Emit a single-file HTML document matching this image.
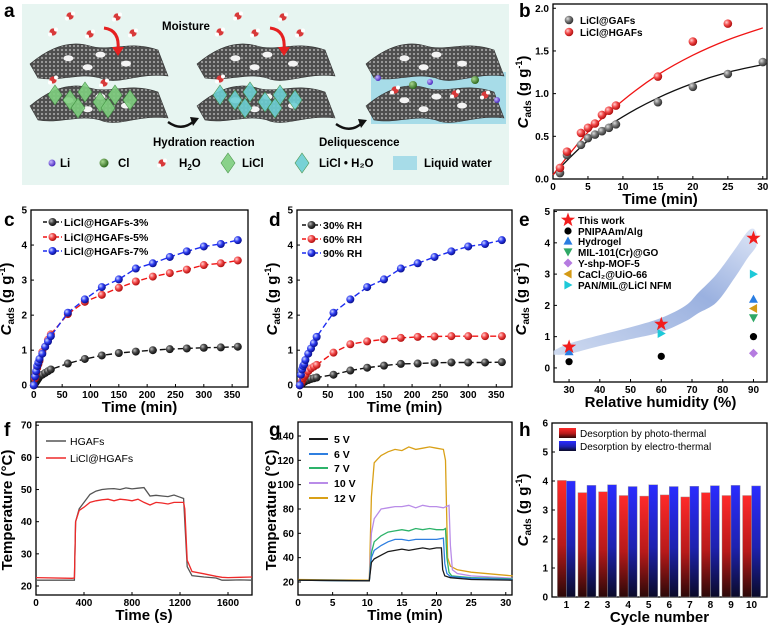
<!DOCTYPE html>
<html><head><meta charset="utf-8"><title>LiCl@HGAFs sorption figure</title>
<style>
html,body{margin:0;padding:0;background:#fff;}
svg{display:block;font-family:"Liberation Sans",Arial,sans-serif;}
</style></head>
<body>
<svg id="fig" width="770" height="628" viewBox="0 0 770 628" xmlns="http://www.w3.org/2000/svg">
<defs>
<radialGradient id="gBlack" cx="35%" cy="35%" r="65%"><stop offset="0" stop-color="#bbb"/><stop offset="0.5" stop-color="#444"/><stop offset="1" stop-color="#111"/></radialGradient>
<radialGradient id="gGray" cx="35%" cy="35%" r="65%"><stop offset="0" stop-color="#ddd"/><stop offset="0.5" stop-color="#777"/><stop offset="1" stop-color="#333"/></radialGradient>
<radialGradient id="gRed" cx="35%" cy="35%" r="65%"><stop offset="0" stop-color="#ffd0d0"/><stop offset="0.5" stop-color="#f24848"/><stop offset="1" stop-color="#b01010"/></radialGradient>
<radialGradient id="gBlue" cx="35%" cy="35%" r="65%"><stop offset="0" stop-color="#d0d8ff"/><stop offset="0.5" stop-color="#2d3cf0"/><stop offset="1" stop-color="#0a1090"/></radialGradient>
<radialGradient id="gLi" cx="35%" cy="35%" r="65%"><stop offset="0" stop-color="#c8b8ff"/><stop offset="1" stop-color="#4a2ac0"/></radialGradient>
<radialGradient id="gCl" cx="35%" cy="35%" r="65%"><stop offset="0" stop-color="#a8d890"/><stop offset="1" stop-color="#2f6a1e"/></radialGradient>
<linearGradient id="barRed" x1="0" y1="0" x2="0" y2="1"><stop offset="0" stop-color="#ff2a2a"/><stop offset="0.55" stop-color="#b81a1a"/><stop offset="1" stop-color="#2a0808"/></linearGradient>
<linearGradient id="barBlue" x1="0" y1="0" x2="0" y2="1"><stop offset="0" stop-color="#2a2cff"/><stop offset="0.55" stop-color="#1e22b0"/><stop offset="1" stop-color="#0a0a28"/></linearGradient>
<linearGradient id="band" x1="0" y1="1" x2="1" y2="0"><stop offset="0" stop-color="#c9d6ee"/><stop offset="0.6" stop-color="#8fa8dc"/><stop offset="1" stop-color="#d9e2f5"/></linearGradient>
<pattern id="mesh" width="4" height="4" patternUnits="userSpaceOnUse"><rect width="4" height="4" fill="#4e4e4e"/><circle cx="2" cy="2" r="1.1" fill="#a0a0a0"/></pattern>
</defs>
<g id="panelA">
  <rect x="22" y="4" width="487" height="181" fill="#e7f5f1"/>
</g>
<g id="charts"></g>
</svg>
<script>
// ---------------- data ----------------
const bTimeGAF=[1,2,4,5,6,7,8,9,15,20,25,30];
const bValGAF=[0.07,0.28,0.40,0.48,0.52,0.56,0.60,0.64,0.90,1.08,1.23,1.37];
const bTimeHGAF=[1,2,4,5,6,7,8,9,15,20,25];
const bValHGAF=[0.13,0.32,0.54,0.60,0.65,0.75,0.80,0.86,1.20,1.61,1.82];
const bFitTime=[0,5,10,15,20,25,30];
const bFitGAF=[0.05,0.45,0.73,0.95,1.12,1.25,1.34];
const bFitHGAF=[0.05,0.55,0.92,1.22,1.45,1.63,1.77];
const cdTime=[0,2,4,6,8,10,15,20,25,30,60,90,120,150,180,210,240,270,300,330,360];
const c3=[0,0.05,0.10,0.15,0.20,0.25,0.30,0.35,0.40,0.45,0.62,0.75,0.85,0.92,0.96,1.00,1.03,1.05,1.07,1.08,1.10];
const c5=[0,0.20,0.35,0.50,0.60,0.70,0.95,1.10,1.30,1.45,2.03,2.38,2.58,2.78,2.96,3.10,3.20,3.30,3.43,3.48,3.56];
const c7=[0,0.25,0.40,0.55,0.65,0.75,0.90,1.10,1.25,1.40,2.07,2.45,2.80,3.02,3.33,3.48,3.66,3.82,3.96,4.03,4.14];
const d30=[0,0.02,0.05,0.08,0.10,0.12,0.15,0.18,0.20,0.22,0.30,0.42,0.50,0.56,0.61,0.62,0.64,0.65,0.65,0.65,0.66];
const d60=[0,0.05,0.12,0.20,0.25,0.30,0.40,0.48,0.53,0.58,0.93,1.17,1.25,1.31,1.35,1.38,1.39,1.40,1.40,1.40,1.40];
const d90=[0,0.30,0.45,0.55,0.60,0.72,0.90,1.05,1.20,1.38,2.07,2.45,2.80,3.02,3.33,3.48,3.66,3.82,3.96,4.03,4.14];
const eBandX=[25,30,40,50,60,68,72,78,84,88,90,91];
const eBandTop=[0.55,0.78,1.05,1.30,1.60,2.00,2.40,3.00,3.80,4.35,4.45,4.3];
const eBandBot=[0.42,0.45,0.70,0.92,1.15,1.50,1.75,2.10,2.90,3.50,3.75,3.9];
const eStarX=[30,60,90], eStarY=[0.67,1.40,4.15];
const ePnipX=[30,60,90], ePnipY=[0.20,0.37,1.00];
const eHydX=[30,90], eHydY=[0.52,2.20];
const eMilX=[90], eMilY=[1.60];
const eYshpX=[90], eYshpY=[0.47];
const eCacX=[90], eCacY=[1.90];
const ePanX=[60,90], ePanY=[1.10,3.00];
const fTime=[0,300,320,330,360,400,450,500,550,600,650,700,750,800,850,900,950,1000,1050,1100,1150,1200,1230,1240,1260,1300,1400,1500,1550,1600,1700,1800];
const fHGAF=[21.8,21.8,21.8,40,44,46,48.5,49.5,50,50.2,50.3,50,50.5,50.2,50.4,50.6,48,48.2,48,47.8,48.3,47.6,47.2,40,26,23.2,22.8,22.5,21.8,21.8,21.9,21.8];
const fLiCl=[22.6,22.4,22.5,40,43.5,44.5,46,46.5,46.8,47,46.5,47,46.8,46.5,47,46,45.2,46,45.8,45.5,46,46,46,44,28,24.5,23.8,23,22.7,22.6,22.7,22.8];
const g5t=[0,10,10.3,10.6,11,12,13,14,15,16,17,18,19,20,20.7,20.9,21.2,22,25,31];
const g5v=[21.5,21,21,36,39,42,45,46,47,46,47,48,47,48,48,30,25,23.5,22,21.5];
const g6t=[0,10,10.3,10.6,11,12,13,14,15,16,17,18,19,20,21,21.2,21.5,22,25,31];
const g6v=[21.5,21,21,40,46,50,53,55,55,54,55,55,55,55,56,35,27,24.5,23,22];
const g7t=[0,10,10.3,10.6,11,12,13,14,15,16,17,18,19,20,21,21.3,21.5,21.8,22.2,25,31];
const g7v=[21.5,21,21,44,53,58,61,62,63,62,64,63,64,63,63,64,40,28,25,23.5,22.5];
const g10t=[0,10,10.3,10.6,11,12,13,14,15,16,17,18,19,20,21,21.8,22,22.3,23,25,31];
const g10v=[21.5,21,21,60,72,80,81,82,82,83,81,83,82,82,81,83,50,30,27,25,23];
const g12t=[0,10,10.3,10.6,11,11.5,12,13,14,15,16,17,18,19,20,21,21.3,21.6,22,23,25,31];
const g12v=[22,21.5,21.5,90,118,121,124,127,129,128,131,129,130,131,130,129,120,40,33,30,28,25];
const hCycles=[1,2,3,4,5,6,7,8,9,10];
const hPhoto=[4.02,3.60,3.63,3.50,3.48,3.52,3.45,3.60,3.50,3.50];
const hElectro=[4.00,3.85,3.87,3.81,3.87,3.81,3.82,3.84,3.85,3.83];

// ---------------- helpers ----------------
const NS='http://www.w3.org/2000/svg';
const root=document.getElementById('charts');
const panelA=document.getElementById('panelA');
function mk(tag,attrs,name,parent){
  const el=document.createElementNS(NS,tag);
  for(const k in attrs) el.setAttribute(k,attrs[k]);
  
  
  (parent||root).appendChild(el);
  return el;
}
function txt(x,y,s,attrs,name,parent){
  const a=Object.assign({x:x,y:y,'font-size':11,'font-weight':'bold',fill:'#000'},attrs||{});
  const el=mk('text',a,name,parent); el.textContent=s; return el;
}
function axes(o){
  const sx=v=>o.L+(v-o.xmin)/(o.xmax-o.xmin)*(o.R-o.L);
  const sy=v=>o.B-(v-o.ymin)/(o.ymax-o.ymin)*(o.B-o.T);
  const g=mk('g',{},o.id+'-axes');
  o.xt.forEach((v,i)=>{
    mk('line',{x1:sx(v),x2:sx(v),y1:o.B,y2:o.B-3,stroke:'#000','stroke-width':1},o.id+'-x-tick',g);
    txt(sx(v),o.B+11,o.xl?o.xl[i]:String(v),{'text-anchor':'middle','font-size':10},o.id+'-x-tick-label',g);
  });
  o.yt.forEach((v,i)=>{
    mk('line',{x1:o.L,x2:o.L+3,y1:sy(v),y2:sy(v),stroke:'#000','stroke-width':1},o.id+'-y-tick',g);
    txt(o.L-4,sy(v)+3.5,o.yl?o.yl[i]:String(v),{'text-anchor':'end','font-size':10},o.id+'-y-tick-label',g);
  });
  mk('rect',{x:o.L,y:o.T,width:o.R-o.L,height:o.B-o.T,fill:'none',stroke:'#000','stroke-width':1.3},o.id+'-plot-frame',g);
  txt((o.L+o.R)/2,o.B+25,o.xtitle,{'text-anchor':'middle','font-size':15},o.id+'-x-axis-title',g);
  return {sx,sy,g};
}
function cadsTitle(x,cy,id){
  const t=mk('text',{x:0,y:0,'font-size':15,'font-weight':'bold','text-anchor':'middle',transform:`translate(${x},${cy}) rotate(-90)`},id+'-y-axis-title');
  const a=document.createElementNS(NS,'tspan'); a.setAttribute('font-style','italic'); a.textContent='C'; t.appendChild(a);
  const b=document.createElementNS(NS,'tspan'); b.setAttribute('font-size','10'); b.setAttribute('dy','3'); b.textContent='ads'; t.appendChild(b);
  const c=document.createElementNS(NS,'tspan'); c.setAttribute('dy','-3'); c.textContent=' (g g'; t.appendChild(c);
  const d=document.createElementNS(NS,'tspan'); d.setAttribute('font-size','9'); d.setAttribute('dy','-6'); d.textContent='-1'; t.appendChild(d);
  const e=document.createElementNS(NS,'tspan'); e.setAttribute('dy','6'); e.textContent=')'; t.appendChild(e);
}
function plainTitle(x,cy,s,id){
  mk('text',{x:0,y:0,'font-size':15,'font-weight':'bold','text-anchor':'middle',transform:`translate(${x},${cy}) rotate(-90)`},id+'-y-axis-title').textContent=s;
}
function panelLabel(x,y,s){ txt(x,y,s,{'font-size':19},'panel-label-'+s); }
function smooth(pts){
  let d='M'+pts[0][0]+','+pts[0][1];
  for(let i=0;i<pts.length-1;i++){
    const p0=pts[Math.max(i-1,0)],p1=pts[i],p2=pts[i+1],p3=pts[Math.min(i+2,pts.length-1)];
    d+=` C${p1[0]+(p2[0]-p0[0])/6},${p1[1]+(p2[1]-p0[1])/6} ${p2[0]-(p3[0]-p1[0])/6},${p2[1]-(p3[1]-p1[1])/6} ${p2[0]},${p2[1]}`;
  }
  return d;
}
function poly(xs,ys,A,attrs,name){
  const pts=xs.map((x,i)=>A.sx(x).toFixed(1)+','+A.sy(ys[i]).toFixed(1)).join(' ');
  return mk('polyline',Object.assign({points:pts,fill:'none'},attrs),name);
}
function marker(type,x,y,color,name){
  const s=4.5;
  if(type==='circle') return mk('circle',{cx:x,cy:y,r:3.6,fill:color},name);
  if(type==='star'){
    let p=[];for(let i=0;i<10;i++){const r=i%2?3:7.5,a=-Math.PI/2+i*Math.PI/5;p.push((x+r*Math.cos(a)).toFixed(1)+','+(y+r*Math.sin(a)).toFixed(1));}
    return mk('polygon',{points:p.join(' '),fill:'#f21d1d'},name);
  }
  const shapes={up:[[0,-s],[s,s*0.8],[-s,s*0.8]],down:[[0,s],[s,-s*0.8],[-s,-s*0.8]],left:[[-s,0],[s*0.8,-s],[s*0.8,s]],right:[[s,0],[-s*0.8,-s],[-s*0.8,s]],diamond:[[0,-s],[s,0],[0,s],[-s,0]]};
  return mk('polygon',{points:shapes[type].map(p=>(x+p[0])+','+(y+p[1])).join(' '),fill:color},name);
}

// ---------------- panel a ----------------
function sheet(ox,oy,w,name){
  const d=`M${ox},${oy+22} C${ox+20},${oy+5} ${ox+40},${oy-2} ${ox+60},${oy+4} C${ox+80},${oy+10} ${ox+100},${oy-2} ${ox+w},${oy+8}
  L${ox+w+10},${oy+34} C${ox+w-20},${oy+30} ${ox+w-40},${oy+44} ${ox+70},${oy+36} C${ox+50},${oy+30} ${ox+30},${oy+40} ${ox+8},${oy+36} Z`;
  mk('path',{d:d,fill:'url(#mesh)',stroke:'#333','stroke-width':0.6},name,panelA);
  [[0.3,0.45],[0.55,0.35],[0.75,0.6],[0.45,0.7]].forEach(h=>mk('ellipse',{cx:ox+w*h[0],cy:oy+36*h[1],rx:5,ry:3,fill:'#f4f4f4'},'graphene-hole',panelA));
}
const cols=[30,197,366];
cols.forEach((ox,i)=>{
  if(i===2) mk('rect',{x:371,y:72,width:135,height:52,fill:'#a7dce8'},'liquid-water-layer',panelA);
  sheet(ox,42,128,'graphene-sheet-top');
  sheet(ox,84,128,'graphene-sheet-bottom');
});
function octa(cx,cy,fill,name){mk('polygon',{points:`${cx},${cy-10} ${cx+7},${cy} ${cx},${cy+10} ${cx-7},${cy}`,fill:fill,stroke:'#3a8a3a','stroke-width':0.6,opacity:0.9},name,panelA);}
[[55,95],[70,100],[85,92],[100,102],[115,95],[130,100],[78,108],[108,108]].forEach(p=>octa(p[0],p[1],'#7fcf7f','licl-octahedron'));
[[220,95],[235,100],[250,92],[265,102],[280,95],[295,100],[245,108],[275,108]].forEach(p=>octa(p[0],p[1],'#6ccfd4','licl-hydrate-octahedron'));
function water(cx,cy,name){mk('circle',{cx:cx,cy:cy,r:3.6,fill:'#d83a3a'},name,panelA);mk('circle',{cx:cx-3,cy:cy+2.5,r:2,fill:'#fff'},name+'-h',panelA);mk('circle',{cx:cx+3,cy:cy-2.5,r:2,fill:'#fff'},name+'-h',panelA);}
[[70,16],[117,17],[53,32],[90,34],[133,33],[53,80],[104,83],[238,16],[283,17],[220,32],[255,33],[300,33],[220,79],[395,90],[455,94],[485,95]].forEach(p=>water(p[0],p[1],'water-molecule'));
[[378,78],[430,82],[497,100]].forEach(p=>mk('circle',{cx:p[0],cy:p[1],r:3,fill:'url(#gLi)'},'li-ion',panelA));
[[413,85],[475,80]].forEach(p=>mk('circle',{cx:p[0],cy:p[1],r:4,fill:'url(#gCl)'},'cl-ion',panelA));
mk('path',{d:'M104,28 Q120,30 118,50',fill:'none',stroke:'#e52020','stroke-width':3},'moisture-arrow',panelA);
mk('polygon',{points:'112,47 124,47 118,56',fill:'#e52020'},'moisture-arrowhead',panelA);
mk('path',{d:'M270,28 Q286,30 284,50',fill:'none',stroke:'#e52020','stroke-width':3},'moisture-arrow',panelA);
mk('polygon',{points:'278,47 290,47 284,56',fill:'#e52020'},'moisture-arrowhead',panelA);
mk('path',{d:'M168,122 Q182,132 194,121',fill:'none',stroke:'#111','stroke-width':2.4},'hydration-arrow',panelA);
mk('polygon',{points:'190,117 199,118 193,126',fill:'#111'},'hydration-arrowhead',panelA);
mk('path',{d:'M336,124 Q350,134 362,123',fill:'none',stroke:'#111','stroke-width':2.4},'deliquescence-arrow',panelA);
mk('polygon',{points:'358,119 367,120 361,128',fill:'#111'},'deliquescence-arrowhead',panelA);
txt(162,30,'Moisture',{'font-size':11.5},'moisture-label',panelA);
txt(153,146,'Hydration reaction',{'font-size':11.5},'hydration-reaction-label',panelA);
txt(319,146,'Deliquescence',{'font-size':11.5},'deliquescence-label',panelA);
mk('circle',{cx:52,cy:163,r:3.5,fill:'url(#gLi)'},'legend-li-icon',panelA); txt(60,167,'Li',{'font-size':11.5},'legend-li',panelA);
mk('circle',{cx:104,cy:163,r:4.5,fill:'url(#gCl)'},'legend-cl-icon',panelA); txt(118,167,'Cl',{'font-size':11.5},'legend-cl',panelA);
water(162,163,'legend-h2o-icon');
const h2o=txt(179,167,'H',{'font-size':11.5},'legend-h2o',panelA);
let ts=document.createElementNS(NS,'tspan');ts.setAttribute('font-size','8');ts.setAttribute('dy','3');ts.textContent='2';h2o.appendChild(ts);
ts=document.createElementNS(NS,'tspan');ts.setAttribute('dy','-3');ts.textContent='O';h2o.appendChild(ts);
octa(228,163,'#7fcf7f','legend-licl-icon'); txt(242,167,'LiCl',{'font-size':11.5},'legend-licl',panelA);
octa(302,163,'#6ccfd4','legend-licl-h2o-icon'); txt(319,167,'LiCl • H₂O',{'font-size':11.5},'legend-licl-h2o',panelA);
mk('rect',{x:393,y:156,width:24,height:14,fill:'#a7dce8'},'legend-liquid-water-icon',panelA); txt(424,167,'Liquid water',{'font-size':11.5},'legend-liquid-water',panelA);
panelLabel(4,17,'a');

// ---------------- panel b ----------------
panelLabel(519,17,'b');
const B=axes({id:'b',L:553,R:767,T:4,B:179,xmin:0,xmax:30.6,ymin:0,ymax:2.05,xt:[0,5,10,15,20,25,30],yt:[0,0.5,1,1.5,2],yl:['0.0','0.5','1.0','1.5','2.0'],xtitle:'Time (min)'});
cadsTitle(528,92,'b');
mk('path',{d:smooth(bFitTime.map((t,i)=>[B.sx(t),B.sy(bFitGAF[i])])),fill:'none',stroke:'#111','stroke-width':1.3},'fit-line-licl-gafs');
mk('path',{d:smooth(bFitTime.map((t,i)=>[B.sx(t),B.sy(bFitHGAF[i])])),fill:'none',stroke:'#f01414','stroke-width':1.3},'fit-line-licl-hgafs');
bTimeGAF.forEach((t,i)=>mk('circle',{cx:B.sx(t),cy:B.sy(bValGAF[i]),r:4.3,fill:'url(#gGray)'},'point-licl-gafs'));
bTimeHGAF.forEach((t,i)=>mk('circle',{cx:B.sx(t),cy:B.sy(bValHGAF[i]),r:4.3,fill:'url(#gRed)'},'point-licl-hgafs'));
mk('circle',{cx:569,cy:20,r:4.3,fill:'url(#gGray)'},'legend-marker-licl-gafs'); txt(580,24,'LiCl@GAFs',{'font-size':10},'legend-entry-licl-gafs');
mk('circle',{cx:569,cy:32,r:4.3,fill:'url(#gRed)'},'legend-marker-licl-hgafs'); txt(580,36,'LiCl@HGAFs',{'font-size':10},'legend-entry-licl-hgafs');

// ---------------- panel c & d ----------------
function kinetic(id,L,R,series,labels,grads,colors,legX,legTextX,legY){
  const A=axes({id:id,L:L,R:R,T:210,B:387,xmin:-5,xmax:378,ymin:-0.05,ymax:5,xt:[0,50,100,150,200,250,300,350],yt:[0,1,2,3,4,5],xtitle:'Time (min)'});
  series.forEach((vals,s)=>{
    poly(cdTime,vals,A,{stroke:colors[s],'stroke-width':1.4,'stroke-dasharray':'6,3'},id+'-line-'+labels[s]);
    cdTime.forEach((t,i)=>mk('circle',{cx:A.sx(t),cy:A.sy(vals[i]),r:4,fill:grads[s]},id+'-point-'+labels[s]));
    const y=legY[s];
    mk('line',{x1:legX,x2:legX+19,y1:y,y2:y,stroke:colors[s],'stroke-width':1.4,'stroke-dasharray':'4,2'},id+'-legend-line');
    mk('circle',{cx:legX+9.5,cy:y,r:4,fill:grads[s]},id+'-legend-marker');
    txt(legTextX,y+4,labels[s],{'font-size':10.5},id+'-legend-entry');
  });
  return A;
}
panelLabel(4,226,'c');
kinetic('c',31,248,[c3,c5,c7],['LiCl@HGAFs-3%','LiCl@HGAFs-5%','LiCl@HGAFs-7%'],['url(#gBlack)','url(#gRed)','url(#gBlue)'],['#111','#f01414','#1c2cf0'],43,64,[222,237,251]);
cadsTitle(11,299,'c');
panelLabel(269,226,'d');
kinetic('d',297,512,[d30,d60,d90],['30% RH','60% RH','90% RH'],['url(#gBlack)','url(#gRed)','url(#gBlue)'],['#111','#f01414','#1c2cf0'],302,323,[225,239,253]);
cadsTitle(277,299,'d');

// ---------------- panel e ----------------
panelLabel(519,226,'e');
const E=axes({id:'e',L:554,R:767,T:210,B:382,xmin:25.1,xmax:94.4,ymin:-0.45,ymax:5.05,xt:[30,40,50,60,70,80,90],yt:[0,1,2,3,4,5],xtitle:'Relative humidity (%)'});
cadsTitle(526,299,'e');
const bandPts=eBandX.map((x,i)=>[E.sx(x),E.sy(eBandTop[i])]);
const bandBot=eBandX.map((x,i)=>[E.sx(x),E.sy(eBandBot[i])]).reverse();
const botPath=smooth(bandBot);
mk('path',{d:smooth(bandPts)+' L'+bandBot[0][0]+','+bandBot[0][1]+botPath.slice(botPath.indexOf(' C'))+' Z',fill:'url(#band)',opacity:0.9},'humidity-trend-band');
ePnipX.forEach((x,i)=>marker('circle',E.sx(x),E.sy(ePnipY[i]),'#000','point-pnipaam-alg'));
eHydX.forEach((x,i)=>marker('up',E.sx(x),E.sy(eHydY[i]),'#2a7de1','point-hydrogel'));
eMilX.forEach((x,i)=>marker('down',E.sx(x),E.sy(eMilY[i]),'#2fa866','point-mil-101'));
eYshpX.forEach((x,i)=>marker('diamond',E.sx(x),E.sy(eYshpY[i]),'#b57be0','point-y-shp-mof-5'));
eCacX.forEach((x,i)=>marker('left',E.sx(x),E.sy(eCacY[i]),'#d49a16','point-cacl2-uio-66'));
ePanX.forEach((x,i)=>marker('right',E.sx(x),E.sy(ePanY[i]),'#1ec9d8','point-pan-mil-licl'));
eStarX.forEach((x,i)=>marker('star',E.sx(x),E.sy(eStarY[i]),'#f21d1d','point-this-work'));
const eLeg=[['star','#f21d1d','This work'],['circle','#000','PNIPAAm/Alg'],['up','#2a7de1','Hydrogel'],['down','#2fa866','MIL-101(Cr)@GO'],['diamond','#b57be0','Y-shp-MOF-5'],['left','#d49a16','CaCl₂@UiO-66'],['right','#1ec9d8','PAN/MIL@LiCl NFM']];
const eLegY=[220,231,241,252,263,274,285];
eLeg.forEach((l,i)=>{marker(l[0],568,eLegY[i],l[1],'legend-marker-'+i);txt(578,eLegY[i]+4,l[2],{'font-size':10},'legend-entry-e');});

// ---------------- panel f ----------------
panelLabel(4,436,'f');
const F=axes({id:'f',L:36,R:252,T:422,B:595,xmin:0,xmax:1800,ymin:17.2,ymax:71,xt:[0,400,800,1200,1600],yt:[20,30,40,50,60,70],xtitle:'Time (s)'});
plainTitle(12,510,'Temperature (°C)','f');
poly(fTime,fHGAF,F,{stroke:'#555','stroke-width':1.3},'line-hgafs');
poly(fTime,fLiCl,F,{stroke:'#ee2a2a','stroke-width':1.3},'line-licl-hgafs');
mk('line',{x1:46,x2:66,y1:441,y2:441,stroke:'#555','stroke-width':1.5},'legend-line-hgafs'); txt(70,445,'HGAFs',{'font-size':10.5,'font-weight':'normal'},'legend-entry-hgafs');
mk('line',{x1:46,x2:66,y1:458,y2:458,stroke:'#ee2a2a','stroke-width':1.5},'legend-line-licl-hgafs'); txt(70,462,'LiCl@HGAFs',{'font-size':10.5,'font-weight':'normal'},'legend-entry-licl-hgafs');

// ---------------- panel g ----------------
panelLabel(269,436,'g');
const G=axes({id:'g',L:298,R:512,T:422,B:595,xmin:0,xmax:30.9,ymin:9.3,ymax:151.5,xt:[0,5,10,15,20,25,30],yt:[20,40,60,80,100,120,140],xtitle:'Time (min)'});
plainTitle(276,510,'Temperature (°C)','g');
const gSeries=[[g12t,g12v,'#d9a017','12 V'],[g10t,g10v,'#b98ce8','10 V'],[g7t,g7v,'#2db36a','7 V'],[g6t,g6v,'#2f7fe0','6 V'],[g5t,g5v,'#1a1a1a','5 V']];
gSeries.forEach(s=>poly(s[0],s[1],G,{stroke:s[2],'stroke-width':1.3},'line-'+s[3].replace(' ','').toLowerCase()));
const gLegY=[439,454,468,483,498];
gSeries.slice().reverse().forEach((s,i)=>{mk('line',{x1:309,x2:328,y1:gLegY[i],y2:gLegY[i],stroke:s[2],'stroke-width':2},'legend-line-g');txt(334,gLegY[i]+4,s[3],{'font-size':10.5},'legend-entry-g');});

// ---------------- panel h ----------------
panelLabel(519,436,'h');
const H=axes({id:'h',L:552,R:767,T:423,B:597,xmin:0.3,xmax:10.75,ymin:0,ymax:6,xt:hCycles,yt:[0,1,2,3,4,5,6],xtitle:'Cycle number'});
cadsTitle(528,510,'h');
hCycles.forEach((c,i)=>{
  mk('rect',{x:H.sx(c)-9,y:H.sy(hPhoto[i]),width:9,height:H.sy(0)-H.sy(hPhoto[i]),fill:'url(#barRed)',stroke:'#999','stroke-width':0.4},'bar-photo-thermal-cycle-'+c);
  mk('rect',{x:H.sx(c),y:H.sy(hElectro[i]),width:9,height:H.sy(0)-H.sy(hElectro[i]),fill:'url(#barBlue)',stroke:'#999','stroke-width':0.4},'bar-electro-thermal-cycle-'+c);
});
mk('rect',{x:559,y:428,width:17,height:10,fill:'url(#barRed)'},'legend-swatch-photo-thermal'); txt(580,437,'Desorption by photo-thermal',{'font-size':10,'font-weight':'normal'},'legend-entry-photo-thermal');
mk('rect',{x:559,y:441,width:17,height:10,fill:'url(#barBlue)'},'legend-swatch-electro-thermal'); txt(580,450,'Desorption by electro-thermal',{'font-size':10,'font-weight':'normal'},'legend-entry-electro-thermal');
</script>
</body></html>
